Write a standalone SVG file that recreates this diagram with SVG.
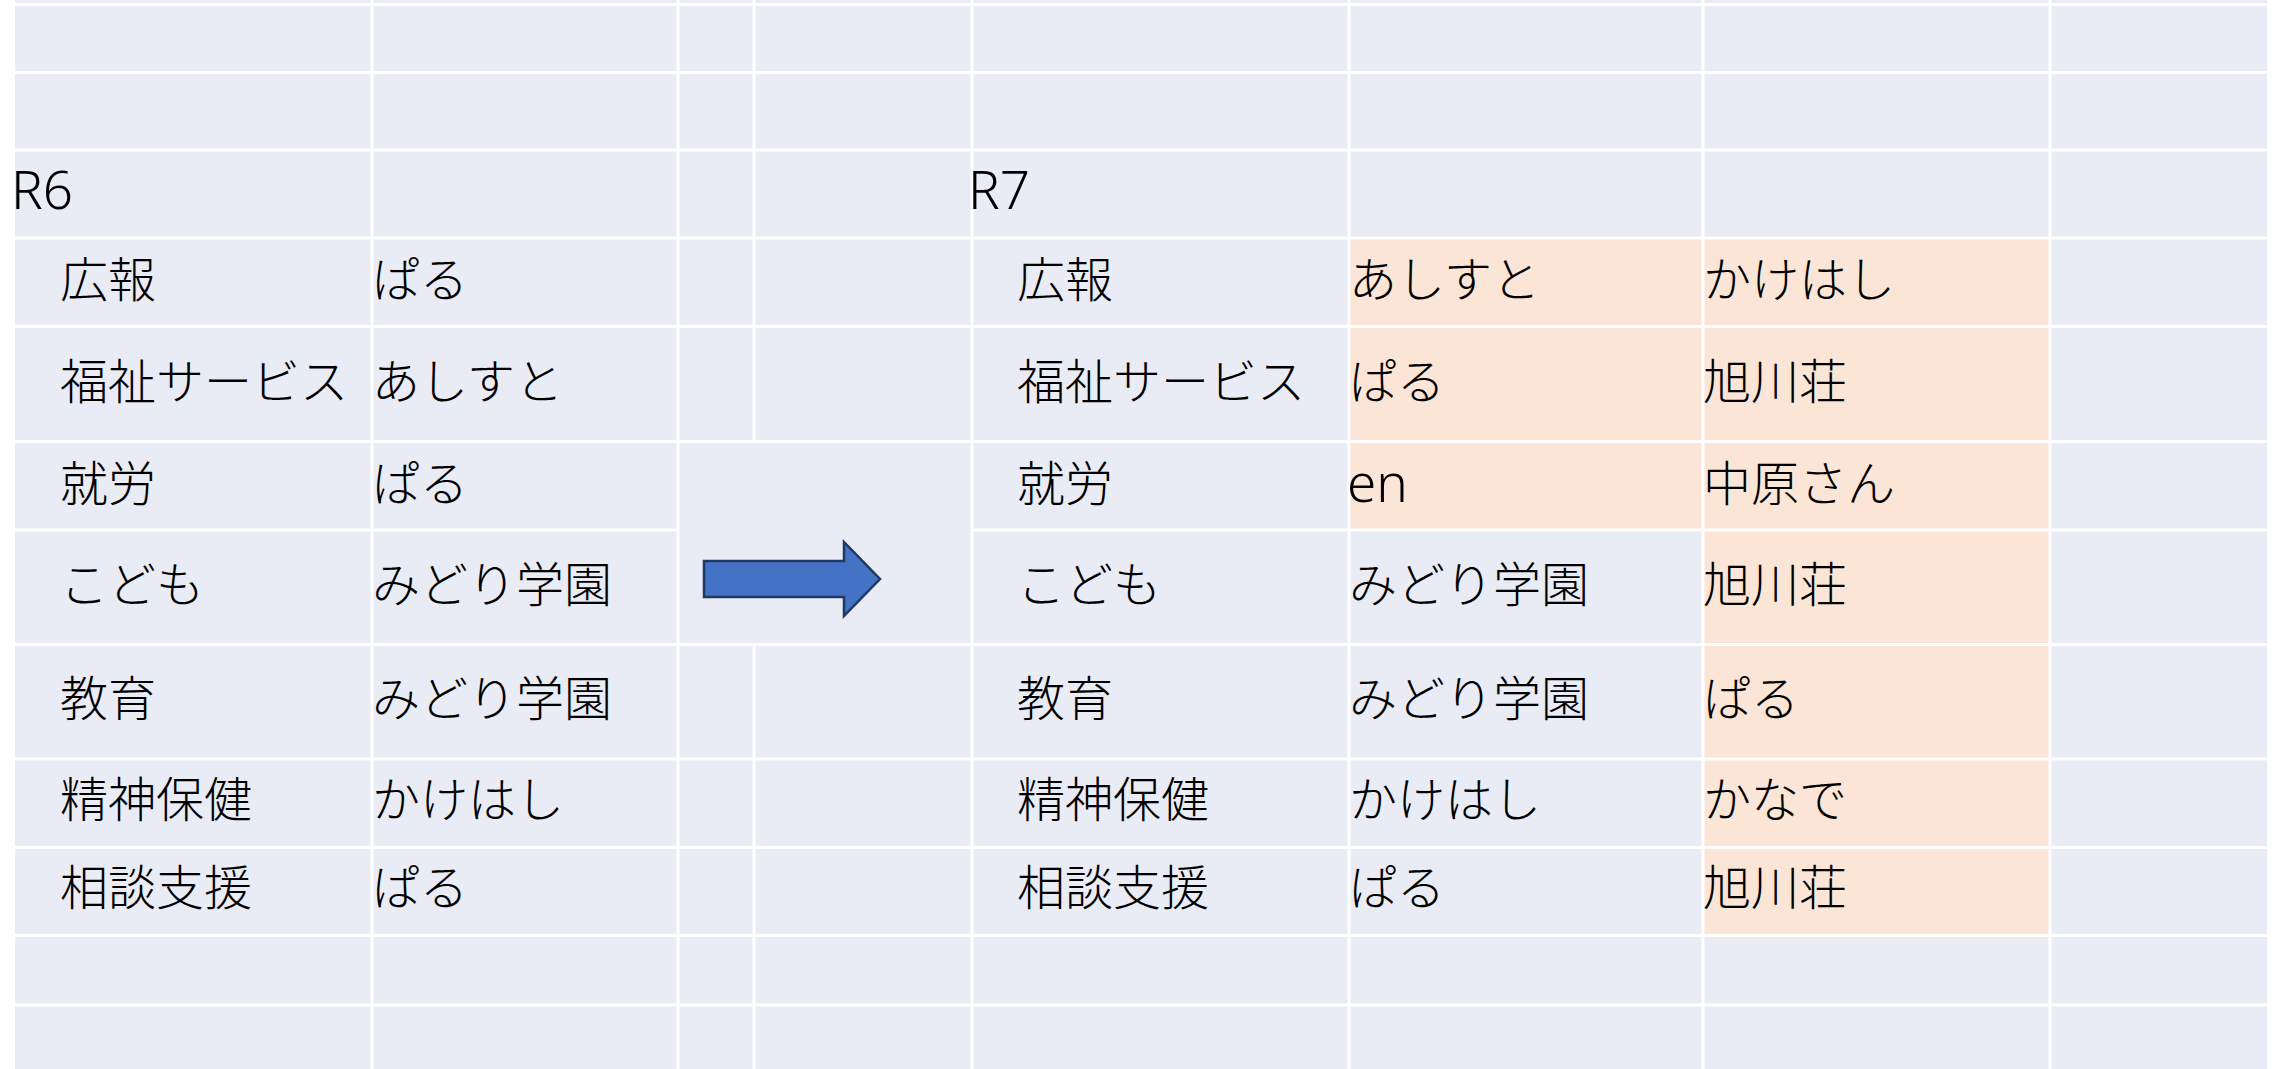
<svg xmlns="http://www.w3.org/2000/svg" width="2280" height="1069" viewBox="0 0 2280 1069">
  <style>
    .cell { fill: #E9EBF5; }
    .hl { fill: #FBE5D6; }
    .grid line { stroke: #FFFFFF; stroke-width: 3; }
    text { font-family: "Noto Sans", "Noto Sans CJK JP", sans-serif; font-size: 48px; font-weight: 300; fill: #000000; }
    text.lat { font-size: 53px; }
    .arrow { fill: #4472C4; stroke: #1F3864; stroke-width: 2.5; stroke-linejoin: miter; }
  </style>
  <rect x="0" y="0" width="2280" height="1069" fill="#FFFFFF"/>
  <g id="table-bg">
    <rect class="cell" x="15" y="0" width="2252" height="1069"/>
    <rect class="hl" x="1349" y="238" width="354" height="292"/>
    <rect class="hl" x="1703" y="238" width="347" height="697.5"/>
  </g>
  <g id="grid" class="grid">
    <line x1="15" y1="4.5" x2="2267" y2="4.5"/>
    <line x1="15" y1="72.5" x2="2267" y2="72.5"/>
    <line x1="15" y1="150" x2="2267" y2="150"/>
    <line x1="15" y1="238" x2="2267" y2="238"/>
    <line x1="15" y1="326.5" x2="2267" y2="326.5"/>
    <line x1="15" y1="441.5" x2="2267" y2="441.5"/>
    <line x1="15" y1="530" x2="678" y2="530"/>
    <line x1="972" y1="530" x2="2267" y2="530"/>
    <line x1="15" y1="644.5" x2="2267" y2="644.5"/>
    <line x1="15" y1="759" x2="2267" y2="759"/>
    <line x1="15" y1="847.5" x2="2267" y2="847.5"/>
    <line x1="15" y1="935.5" x2="2267" y2="935.5"/>
    <line x1="15" y1="1005" x2="2267" y2="1005"/>
    <line x1="372" y1="0" x2="372" y2="1069"/>
    <line x1="678" y1="0" x2="678" y2="1069"/>
    <line x1="754" y1="0" x2="754" y2="441.5"/>
    <line x1="754" y1="644.5" x2="754" y2="1069"/>
    <line x1="972" y1="0" x2="972" y2="1069"/>
    <line x1="1349" y1="0" x2="1349" y2="1069"/>
    <line x1="1703" y1="0" x2="1703" y2="1069"/>
    <line x1="2050" y1="0" x2="2050" y2="1069"/>
  </g>
  <g id="r6-table">
    <text id="r6-title" class="lat" x="11" y="209">R6</text>
    <g id="r6-row1"><text x="60" y="297">広報</text><text x="372" y="297">ぱる</text></g>
    <g id="r6-row2"><text x="60" y="399">福祉サービス</text><text x="372" y="399">あしすと</text></g>
    <g id="r6-row3"><text x="60" y="501">就労</text><text x="372" y="501">ぱる</text></g>
    <g id="r6-row4"><text x="60" y="602">こども</text><text x="372" y="602">みどり学園</text></g>
    <g id="r6-row5"><text x="60" y="716">教育</text><text x="372" y="716">みどり学園</text></g>
    <g id="r6-row6"><text x="60" y="817">精神保健</text><text x="372" y="817">かけはし</text></g>
    <g id="r6-row7"><text x="60" y="905">相談支援</text><text x="372" y="905">ぱる</text></g>
  </g>
  <g id="connectors">
    <path id="arrow" class="arrow" d="M704,561 L844,561 L844,542 L880,579 L844,616 L844,597 L704,597 Z"/>
  </g>
  <g id="r7-table">
    <text id="r7-title" class="lat" x="968" y="209">R7</text>
    <g id="r7-row1"><text x="1017" y="297">広報</text><text x="1349" y="297">あしすと</text><text x="1703" y="297">かけはし</text></g>
    <g id="r7-row2"><text x="1017" y="399">福祉サービス</text><text x="1349" y="399">ぱる</text><text x="1703" y="399">旭川荘</text></g>
    <g id="r7-row3"><text x="1017" y="501">就労</text><text class="lat" x="1347" y="502">en</text><text x="1703" y="501">中原さん</text></g>
    <g id="r7-row4"><text x="1017" y="602">こども</text><text x="1349" y="602">みどり学園</text><text x="1703" y="602">旭川荘</text></g>
    <g id="r7-row5"><text x="1017" y="716">教育</text><text x="1349" y="716">みどり学園</text><text x="1703" y="716">ぱる</text></g>
    <g id="r7-row6"><text x="1017" y="817">精神保健</text><text x="1349" y="817">かけはし</text><text x="1703" y="817">かなで</text></g>
    <g id="r7-row7"><text x="1017" y="905">相談支援</text><text x="1349" y="905">ぱる</text><text x="1703" y="905">旭川荘</text></g>
  </g>
</svg>
